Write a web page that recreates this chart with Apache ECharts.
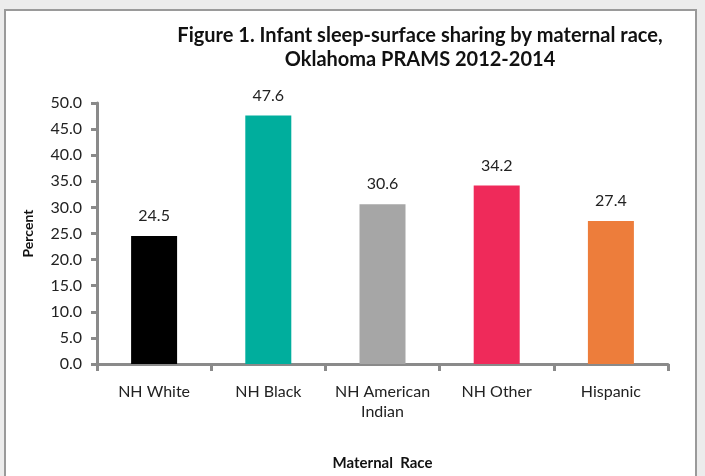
<!DOCTYPE html>
<html>
<head>
<meta charset="utf-8">
<script src="https://cdn.jsdelivr.net/npm/echarts@6/dist/echarts.min.js"></script>
<style>
  html, body { margin: 0; padding: 0; background: #ececec; }
  .panel { position: absolute; left: 4px; top: 9px; width: 693px; height: 480px;
           background: #fff; border: 2px solid #9a9a9a; box-sizing: border-box; }
  #chart { position: absolute; left: 0; top: 0; width: 705px; height: 476px; }
</style>
</head>
<body>
<div class="panel"></div>
<div id="chart"></div>
<script>
const categories = ['NH White', 'NH Black', 'NH American\nIndian', 'NH Other', 'Hispanic'];
const percents = [24.5, 47.6, 30.6, 34.2, 27.4];
const barColors = ['#000000', '#00ae9d', '#a6a6a6', '#ef2a5a', '#ed7d3b'];

const font = 'Lato, "Open Sans", sans-serif';
const axisGrey = '#8a8a8a';

const chart = echarts.init(document.getElementById('chart'));
chart.setOption({
  animation: false,
  textStyle: { fontFamily: font },
  title: {
    text: 'Figure 1. Infant sleep-surface sharing by maternal race,\nOklahoma PRAMS 2012-2014',
    left: 415,
    top: 19,
    textAlign: 'center',
    textStyle: { fontFamily: font, fontSize: 20, fontWeight: 'bold', color: '#111', lineHeight: 24 }
  },
  grid: { left: 97, right: 37, top: 103, bottom: 111 },
  xAxis: {
    type: 'category',
    data: categories,
    name: 'Maternal  Race',
    nameLocation: 'middle',
    nameGap: 92,
    nameTextStyle: { fontFamily: font, fontSize: 15, fontWeight: 'bold', color: '#111' },
    axisLine: { lineStyle: { color: axisGrey, width: 3 } },
    axisTick: { show: true, alignWithLabel: false, length: 7, lineStyle: { color: axisGrey, width: 3 } },
    axisLabel: { fontFamily: font, fontSize: 16, color: '#222', margin: 18, lineHeight: 20, interval: 0 }
  },
  yAxis: {
    type: 'value',
    min: 0,
    max: 50,
    interval: 5,
    name: 'Percent',
    nameLocation: 'middle',
    nameRotate: 90,
    nameGap: 62,
    nameTextStyle: { fontFamily: font, fontSize: 14, fontWeight: 'bold', color: '#111' },
    splitLine: { show: false },
    axisLine: { show: true, lineStyle: { color: axisGrey, width: 3 } },
    axisTick: { show: true, length: 6, lineStyle: { color: axisGrey, width: 3 } },
    axisLabel: { fontFamily: font, fontSize: 16, color: '#222', margin: 15,
                 formatter: v => v.toFixed(1) }
  },
  series: [{
    type: 'bar',
    data: percents.map((v, i) => ({ value: v, itemStyle: { color: barColors[i] } })),
    barWidth: 46,
    label: {
      show: true,
      position: 'top',
      distance: 12,
      fontFamily: font,
      fontSize: 16,
      color: '#222',
      formatter: p => p.value.toFixed(1)
    }
  }]
});
</script>
</body>
</html>
